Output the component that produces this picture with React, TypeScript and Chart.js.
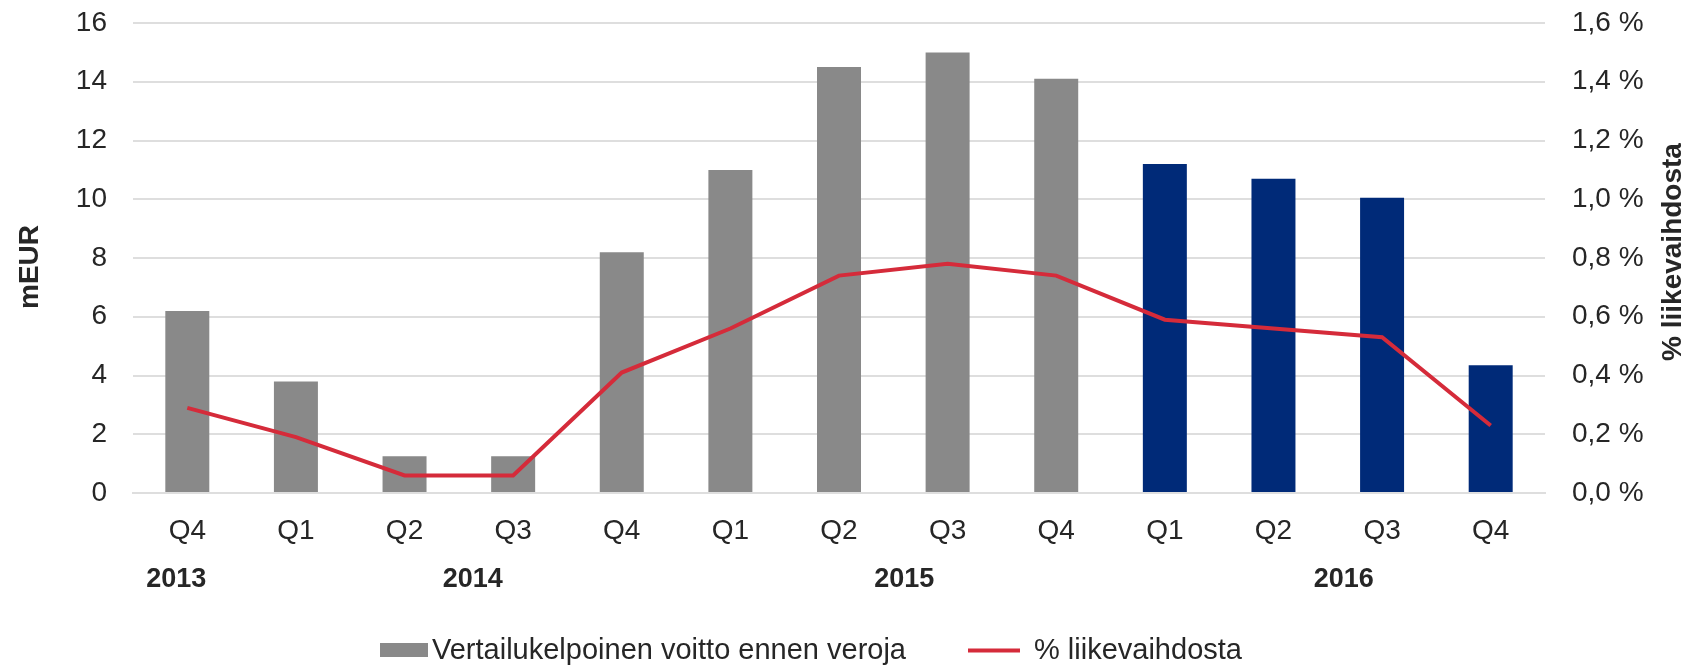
import React, { useEffect, useRef } from "react";
import { Chart, registerables } from "chart.js";

Chart.register(...registerables);

// ---- Data ----
const quarterLabels = ["Q4", "Q1", "Q2", "Q3", "Q4", "Q1", "Q2", "Q3", "Q4", "Q1", "Q2", "Q3", "Q4"];
const quarterYears = [2013, 2014, 2014, 2014, 2014, 2015, 2015, 2015, 2015, 2016, 2016, 2016, 2016];
const profitValues = [6.2, 3.8, 1.25, 1.25, 8.2, 11.0, 14.5, 15.0, 14.1, 11.2, 10.7, 10.05, 4.35];
const marginValues = [0.29, 0.19, 0.06, 0.06, 0.41, 0.56, 0.74, 0.78, 0.74, 0.59, 0.56, 0.53, 0.23];
const yearLabels = ["2013", "2014", "2015", "2016"];
const leftTicks = [0, 2, 4, 6, 8, 10, 12, 14, 16];
const rightTicks = [0, 0.2, 0.4, 0.6, 0.8, 1.0, 1.2, 1.4, 1.6];
const profitLabel = "Vertailukelpoinen voitto ennen veroja";
const marginLabel = "% liikevaihdosta";
const leftTitle = "mEUR";
const rightTitle = "% liikevaihdosta";
const highlightYear = 2016;

// ---- Styles ----
const GRAY = "#898989";
const BLUE = "#002A78";
const RED = "#D52B3A";
const TEXT = "#262626";
const GRID = "#dedede";
const FONT = "'Liberation Sans', Arial, sans-serif";
const yearOffsetsPx = [-11, 14, 11, 16];

const fmtPct = (v: number) => v.toFixed(1).replace(".", ",") + " %";

const overlayPlugin = {
  id: "overlay",
  afterDraw(chart: any) {
    const ctx = chart.ctx as CanvasRenderingContext2D;
    const x = chart.scales.x;
    ctx.save();
    ctx.fillStyle = TEXT;
    // year labels
    ctx.font = `bold 27px ${FONT}`;
    ctx.textAlign = "center";
    ctx.textBaseline = "middle";
    yearLabels.forEach((yl, k) => {
      const idx: number[] = [];
      quarterYears.forEach((y, i) => {
        if (String(y) === yl) idx.push(i);
      });
      const mean = idx.reduce((a, b) => a + b, 0) / idx.length;
      const px = x.getPixelForValue(mean) + yearOffsetsPx[k];
      ctx.fillText(yl, px, 580);
    });
    // axis titles
    ctx.font = `bold 28px ${FONT}`;
    ctx.save();
    ctx.translate(30, 267);
    ctx.rotate(-Math.PI / 2);
    ctx.fillText(leftTitle, 0, 0);
    ctx.restore();
    ctx.save();
    ctx.translate(1673, 252);
    ctx.rotate(-Math.PI / 2);
    ctx.fillText(rightTitle, 0, 0);
    ctx.restore();
    // legend
    ctx.font = `29px ${FONT}`;
    ctx.textAlign = "left";
    ctx.fillStyle = GRAY;
    ctx.fillRect(380, 643, 48, 14);
    ctx.fillStyle = TEXT;
    ctx.fillText(profitLabel, 432, 651);
    ctx.strokeStyle = RED;
    ctx.lineWidth = 4;
    ctx.beginPath();
    ctx.moveTo(968, 650.5);
    ctx.lineTo(1020, 650.5);
    ctx.stroke();
    ctx.fillText(marginLabel, 1034, 651);
    ctx.restore();
  },
};

export default function App() {
  const ref = useRef<HTMLCanvasElement | null>(null);
  useEffect(() => {
    if (!ref.current) return;
    const chart = new Chart(ref.current, {
      type: "bar",
      data: {
        labels: quarterLabels,
        datasets: [
          {
            type: "line",
            label: marginLabel,
            data: marginValues,
            yAxisID: "y1",
            borderColor: RED,
            borderWidth: 4,
            pointRadius: 0,
            tension: 0,
            order: 0,
          } as any,
          {
            type: "bar",
            label: profitLabel,
            data: profitValues,
            yAxisID: "y",
            backgroundColor: quarterYears.map((y) => (y === highlightYear ? BLUE : GRAY)),
            barPercentage: 0.405,
            categoryPercentage: 1,
            order: 1,
          },
        ],
      },
      options: {
        responsive: false,
        animation: false,
        devicePixelRatio: 1,
        layout: { padding: { top: 23, bottom: 0, left: 0, right: 0 } },
        plugins: { legend: { display: false }, tooltip: { enabled: false } },
        scales: {
          x: {
            grid: { display: false, drawTicks: false },
            border: { color: GRID, width: 2 },
            ticks: { color: TEXT, font: { family: FONT, size: 28 }, padding: 21, maxRotation: 0 },
            afterFit: (s: any) => {
              s.height = 173;
              s.paddingLeft = 0;
              s.paddingRight = 0;
            },
          },
          y: {
            position: "left",
            min: 0,
            max: 16,
            afterBuildTicks: (s: any) => {
              s.ticks = leftTicks.map((v) => ({ value: v }));
            },
            grid: { color: GRID, lineWidth: 2, drawTicks: false },
            border: { display: false },
            ticks: { color: TEXT, font: { family: FONT, size: 28 }, padding: 26 },
            afterFit: (s: any) => {
              s.width = 133;
              s.paddingTop = 0;
              s.paddingBottom = 0;
            },
          },
          y1: {
            position: "right",
            min: 0,
            max: 1.6,
            afterBuildTicks: (s: any) => {
              s.ticks = rightTicks.map((v) => ({ value: v }));
            },
            grid: { drawOnChartArea: false, drawTicks: false },
            border: { display: false },
            ticks: {
              color: TEXT,
              font: { family: FONT, size: 28 },
              padding: 27,
              callback: (v: any) => fmtPct(Number(v)),
            },
            afterFit: (s: any) => {
              s.width = 155;
              s.paddingTop = 0;
              s.paddingBottom = 0;
            },
          },
        },
      },
      plugins: [overlayPlugin],
    });
    return () => chart.destroy();
  }, []);
  return (
    <div style={{ position: "fixed", left: 0, top: 0, width: 1700, height: 666, background: "#fff" }}>
      <canvas ref={ref} width={1700} height={666} />
    </div>
  );
}
